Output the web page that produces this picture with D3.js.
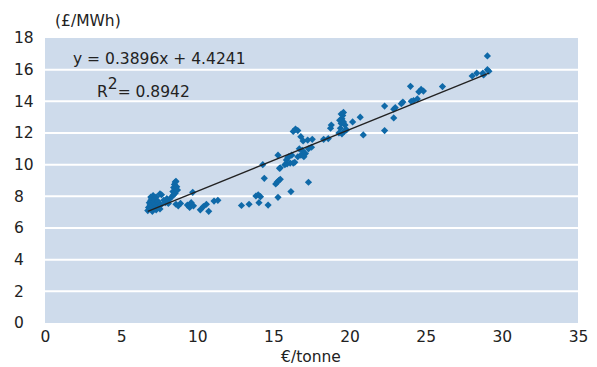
<!DOCTYPE html>
<html>
<head>
<meta charset="utf-8">
<script src="https://cdn.jsdelivr.net/npm/d3@7"></script>
<style>
  body { margin: 0; background: #fff; }
  svg text { font-family: "DejaVu Sans", sans-serif; fill: #222; }
</style>
</head>
<body>
<div id="chart"></div>
<script>
// carbon price (€/tonne)
const carbonPrice = [
  6.75, 6.8, 6.85, 6.9, 6.95, 6.95, 7.0, 7.0, 7.05, 7.05, 7.1, 7.1, 7.15, 7.2, 7.2, 7.25, 7.3, 7.3, 7.35, 7.4, 7.45, 7.5, 7.55, 7.6,
  7.55, 7.65, 7.8, 7.9, 8.0, 8.1, 8.15,
  8.35, 8.4, 8.45, 8.5, 8.55, 8.6, 8.65, 8.55, 8.45, 8.7,
  8.6, 8.75, 8.9, 9.35, 9.5, 9.6, 9.75, 9.7,
  10.2, 10.4, 10.6, 10.75, 11.1, 11.35,
  12.9, 13.4, 13.85, 14.0, 14.15, 14.05, 14.65, 15.3,
  14.4, 14.3, 15.15, 15.25, 15.35, 15.45, 16.15, 17.3,
  15.4, 15.3, 15.45,
  15.75, 15.9, 16.1, 16.3, 16.4, 15.85, 16.0, 16.2, 15.95,
  16.6, 16.8, 16.9, 17.1, 17.3, 17.5, 16.7, 17.0,
  16.3, 16.45, 16.6, 16.8, 16.95, 17.25, 17.55, 18.3, 18.6, 18.8, 18.75,
  19.3, 19.4, 19.45, 19.5, 19.55, 19.6, 19.45, 19.7, 19.65, 19.5, 19.35, 19.6, 19.8,
  20.2, 20.7, 20.9,
  22.3, 22.3, 22.9, 23.0, 22.9, 23.4, 23.5, 24.0, 24.05, 24.2, 24.45, 24.55, 24.7, 24.85, 26.1,
  28.05, 28.35, 28.75, 28.8, 29.05, 29.15, 29.05
];

// power price premium (£/MWh)
const powerPrice = [
  7.1, 7.3, 7.6, 7.45, 7.75, 7.95, 7.2, 7.9, 7.5, 7.05, 7.35, 8.05, 7.65, 7.25, 7.8, 7.5, 7.15, 7.95, 7.4, 7.7, 7.3, 7.55, 7.2, 7.45,
  8.15, 8.1, 7.75, 7.6, 7.85, 7.55, 7.8,
  8.0, 8.3, 8.55, 8.75, 8.9, 8.95, 8.6, 8.2, 8.1, 8.4,
  7.5, 7.4, 7.55, 7.45, 7.3, 7.6, 7.4, 8.25,
  7.15, 7.35, 7.5, 7.05, 7.7, 7.75,
  7.42, 7.5, 8.02, 8.1, 7.98, 7.6, 7.45, 7.94,
  9.14, 10.0, 8.78, 8.9, 9.0, 9.08, 8.3, 8.89,
  9.77, 10.6, 9.8,
  10.0, 10.05, 10.1, 10.1, 10.15, 10.3, 10.5, 10.6, 10.45,
  10.5, 10.6, 10.9, 10.7, 11.0, 11.1, 11.0, 10.5,
  12.1, 12.25, 12.15, 11.77, 11.5, 11.55, 11.6, 11.6, 11.65, 12.5, 12.3,
  12.0, 12.3, 12.6, 12.9, 13.1, 13.3, 13.2, 12.5, 12.1, 11.95, 12.8, 12.7, 12.2,
  12.7, 13.0, 11.88,
  13.7, 12.15, 13.5, 13.6, 12.95, 13.85, 13.95, 14.95, 14.0, 14.05, 14.15, 14.6, 14.75, 14.65, 14.93,
  15.6, 15.78, 15.78, 15.67, 16.0, 15.9, 16.87
];

const trend = { slope: 0.3896, intercept: 4.4241, r2: 0.8942 };
const xTicks = [0, 5, 10, 15, 20, 25, 30, 35];
const yTicks = [0, 2, 4, 6, 8, 10, 12, 14, 16, 18];

const width = 597;
const height = 367;
const margin = { top: 38, right: 19, bottom: 44, left: 45 };
const fontSize = '15.5px';

const svg = d3.select('#chart').append('svg')
  .attr('width', width)
  .attr('height', height);

const xScale = d3.scaleLinear()
  .domain([0, 35])
  .range([margin.left, width - margin.right]);

const yScale = d3.scaleLinear()
  .domain([0, 18])
  .range([height - margin.bottom, margin.top]);

// plot background
svg.append('rect')
  .attr('x', xScale(0))
  .attr('y', yScale(18))
  .attr('width', xScale(35) - xScale(0))
  .attr('height', yScale(0) - yScale(18))
  .attr('fill', '#cedbeb');

// gridlines
svg.append('g')
  .selectAll('line')
  .data(yTicks.filter((d) => d > 0 && d < 18))
  .join('line')
  .attr('x1', xScale(0))
  .attr('x2', xScale(35))
  .attr('y1', (d) => yScale(d))
  .attr('y2', (d) => yScale(d))
  .attr('stroke', '#fff')
  .attr('stroke-width', 2);

// y axis labels (left aligned like the original)
const yAxis = svg.append('g')
  .attr('transform', `translate(${margin.left},0)`)
  .call(d3.axisLeft(yScale).tickValues(yTicks).tickSize(0).tickPadding(0));
yAxis.select('.domain').remove();
yAxis.selectAll('text')
  .attr('x', 14 - margin.left)
  .attr('text-anchor', 'start')
  .style('font-size', fontSize)
  .style('font-family', '"DejaVu Sans", sans-serif')
  .attr('fill', '#222');

// x axis labels
const xAxis = svg.append('g')
  .attr('transform', `translate(0,${yScale(0)})`)
  .call(d3.axisBottom(xScale).tickValues(xTicks).tickSize(0).tickPadding(8));
xAxis.select('.domain').remove();
xAxis.selectAll('text')
  .style('font-size', fontSize)
  .style('font-family', '"DejaVu Sans", sans-serif')
  .attr('fill', '#222');

// points
const points = carbonPrice.map((x, i) => ({ x, y: powerPrice[i] }));
const marker = d3.symbol().type(d3.symbolSquare).size(26);

svg.append('g')
  .selectAll('path')
  .data(points)
  .join('path')
  .attr('d', marker)
  .attr('transform', (d) => `translate(${xScale(d.x)},${yScale(d.y)}) rotate(45)`)
  .attr('fill', '#0f69a8');

// trend line across data range
const [xMin, xMax] = d3.extent(carbonPrice);
const line = d3.line()
  .x((d) => xScale(d))
  .y((d) => yScale(trend.slope * d + trend.intercept));

svg.append('path')
  .datum([xMin, xMax])
  .attr('fill', 'none')
  .attr('stroke', '#222')
  .attr('stroke-width', 1.3)
  .attr('d', line);

// equation labels
svg.append('text')
  .attr('x', 73)
  .attr('y', 64)
  .style('font-size', fontSize)
  .text(`y = ${trend.slope}x + ${trend.intercept}`);

const r2 = svg.append('text')
  .attr('x', 97)
  .attr('y', 97)
  .style('font-size', fontSize);
r2.append('tspan').text('R');
r2.append('tspan').attr('dy', -8).text('2');
r2.append('tspan').attr('dy', 8).text(`= ${trend.r2}`);

// axis titles
svg.append('text')
  .attr('x', 55)
  .attr('y', 26)
  .style('font-size', fontSize)
  .text('(£/MWh)');

svg.append('text')
  .attr('x', 311)
  .attr('y', 362)
  .attr('text-anchor', 'middle')
  .style('font-size', fontSize)
  .text('€/tonne');
</script>
</body>
</html>
